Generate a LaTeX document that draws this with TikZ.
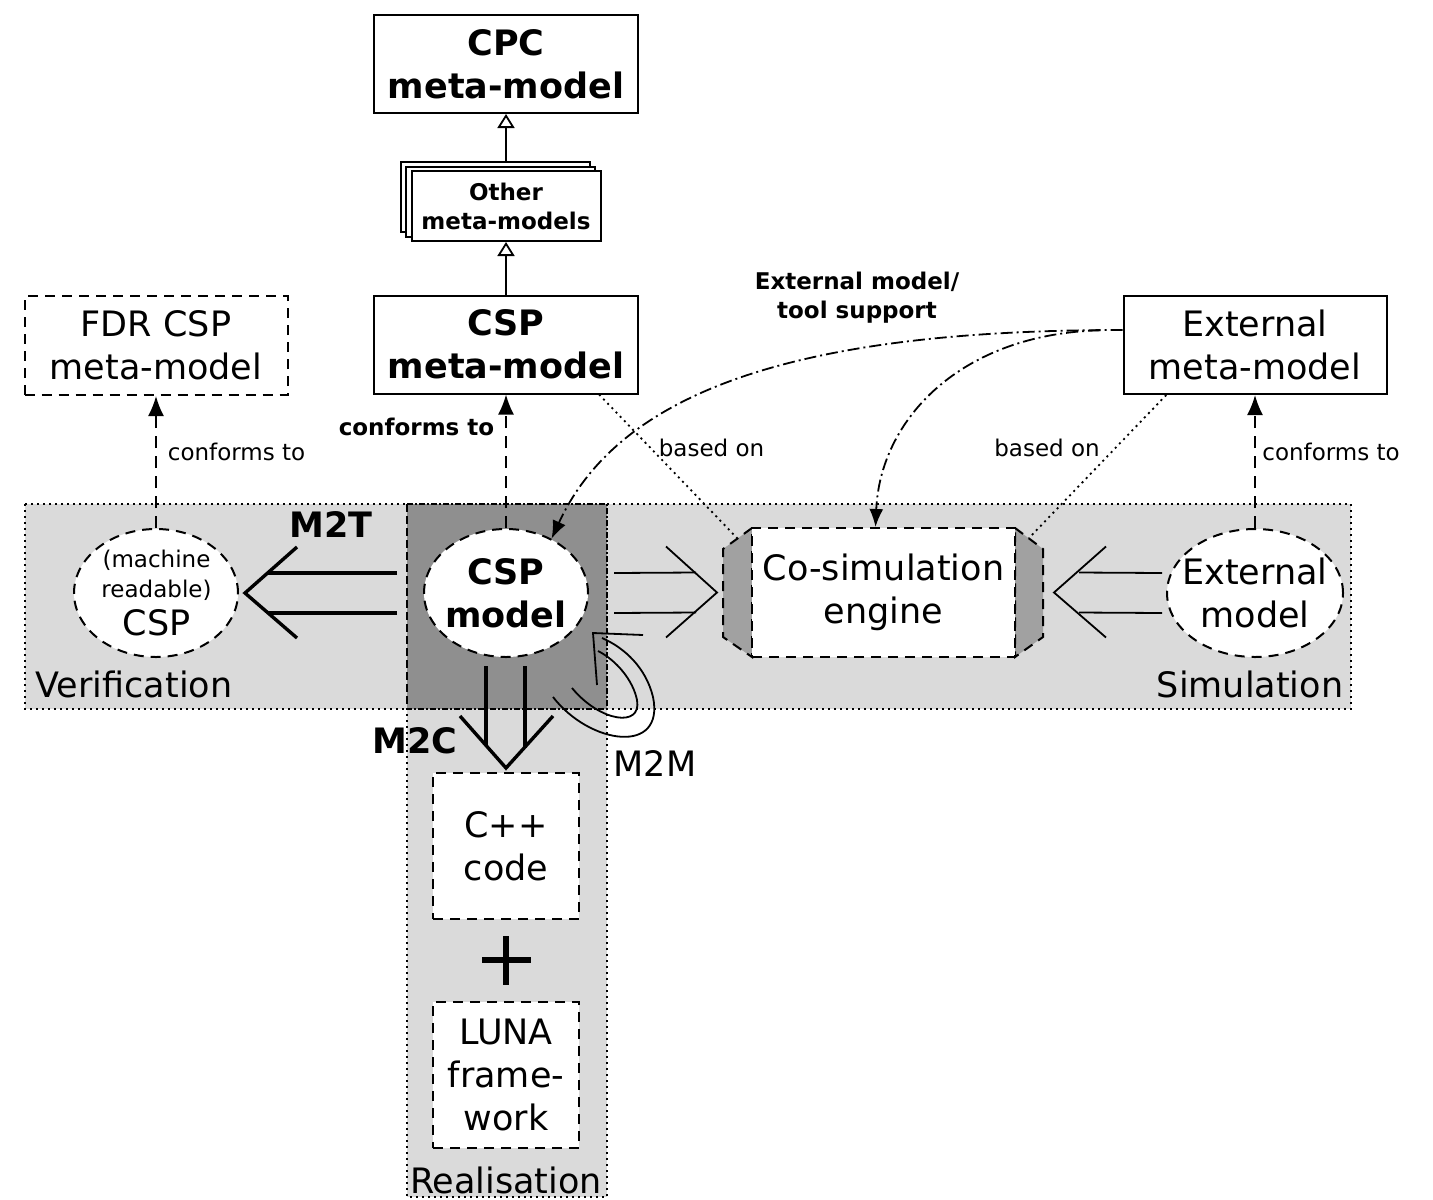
\documentclass[tikz,border=0pt]{standalone}
\usepackage{fontspec}
\setmainfont{DejaVu Sans}
\usetikzlibrary{arrows.meta,shapes.geometric,calc}
\newcommand{\BigTxt}{\fontsize{17.5}{21.5}\selectfont}
\newcommand{\SmTxt}{\fontsize{11.5}{14.5}\selectfont}
\definecolor{bandgray}{gray}{0.855}
\definecolor{darkgray}{gray}{0.56}
\definecolor{sidegray}{gray}{0.63}
\begin{document}
\begin{tikzpicture}[x=0.5pt,y=-0.5pt,
 mbox/.style={draw,line width=1pt,fill=white,align=center,inner sep=0pt,minimum width=132pt,minimum height=49pt,font=\BigTxt\bfseries},
 dbox/.style={draw,line width=1pt,fill=white,align=center,inner sep=0pt,dash pattern=on 5pt off 3.5pt,font=\BigTxt},
 ell/.style={ellipse,draw,line width=1pt,fill=white,inner sep=0pt,dash pattern=on 5pt off 3.5pt,minimum width=82pt,minimum height=64pt},
 conf/.style={line width=0.9pt,dash pattern=on 6pt off 4pt,-{Latex[length=10pt,width=8pt]}},
 inh/.style={line width=0.9pt,-{Triangle[open,length=7pt,width=8.5pt,fill=white]}},
 based/.style={line width=0.9pt,dash pattern=on 1pt off 2pt},
 dotborder/.style={line width=1pt,dash pattern=on 1pt off 2pt},
 dashdot/.style={line width=0.9pt,dash pattern=on 6pt off 2pt on 1pt off 2pt,-{Latex[length=9pt,width=7pt]}},
 fat/.style={line width=1.7pt},
 thinar/.style={line width=0.9pt},
 lbl/.style={font=\SmTxt,inner sep=0pt},
 blbl/.style={font=\SmTxt\bfseries,inner sep=0pt},
 big/.style={font=\BigTxt,inner sep=0pt},
 bigb/.style={font=\BigTxt\bfseries,inner sep=0pt},
]
\useasboundingbox (0,0) rectangle (1433,1199);

% bands
\fill[bandgray] (25,504) rectangle (1351,709);
\fill[bandgray] (407,504) rectangle (607,1197);
\fill[darkgray] (407,504) rectangle (607,709);
\draw[dotborder] (25,504) rectangle (1351,709);
\draw[dotborder] (407,504) rectangle (607,1197);
\draw[line width=0.9pt,dash pattern=on 3pt off 3pt] (407,504) rectangle (607,709);

% top meta-models
\node[mbox] (cpc) at (506,64) {CPC\\meta-model};
\draw[line width=1pt,fill=white] (401,162) rectangle (590,232);
\draw[line width=1pt,fill=white] (406,167) rectangle (595,237);
\node[draw,line width=1pt,fill=white,align=center,inner sep=0pt,minimum width=94.5pt,minimum height=35pt,font=\SmTxt\bfseries] (other) at (506,206) {Other\\meta-models};
\coordinate (otop) at (506,162);
\node[mbox] (cspmm) at (506,344.5) {CSP\\meta-model};
\node[dbox,minimum width=131.5pt,minimum height=49.5pt] (fdr) at (156,345.5) {FDR CSP\\meta-model};
\node[mbox,font=\BigTxt,minimum width=131.5pt] (extmm) at (1255,345) {External\\meta-model};

\draw[inh] (otop) -- (cpc.south);
\draw[inh] (cspmm.north) -- (other.south);

% ellipses
\node[ell] (cspm) at (506,593) {};
\node[bigb,align=center] (cspmt) at (506,593) {CSP\\model};
\node[ell] (mcsp) at (156,593) {};
\node[lbl,anchor=base] (mcspa) at (156.5,567) {(machine};
\node[lbl,anchor=base] (mcspb) at (156.5,597) {readable)};
\node[big,anchor=base] (mcspc) at (156.5,635) {CSP};
\node[ell,minimum width=88pt] (extm) at (1255,593) {};
\node[big,align=center] (extmt) at (1255,593) {External\\model};

% co-simulation engine
\draw[line width=1pt,fill=sidegray,dash pattern=on 5pt off 3.5pt] (752,528) -- (723,549) -- (723,637) -- (752,657) -- cycle;
\draw[line width=1pt,fill=sidegray,dash pattern=on 5pt off 3.5pt] (1015,528) -- (1043,549) -- (1043,637) -- (1015,657) -- cycle;
\node[draw,line width=1pt,fill=white,align=center,inner sep=0pt,dash pattern=on 5pt off 3.5pt,minimum width=131.5pt,minimum height=64.5pt,font=\BigTxt] (cosim) at (883.5,592.5) {Co-simulation\\engine};
\coordinate (lcorner) at (737,538);
\coordinate (rcorner) at (1029,538);
\coordinate (ctop) at ($(cosim.north)+(-8,0)$);

% realisation boxes
\node[dbox,minimum width=73pt,minimum height=73pt] (cpp) at (506,846) {C++\\code};
\node[dbox,minimum width=73pt,minimum height=73pt] (luna) at (506,1075) {LUNA\\frame-\\work};
\draw[line width=2.6pt] (482,960) -- (531,960);
\draw[line width=2.6pt] (506,936) -- (506,985);

% conforms to
\draw[conf] (mcsp.north) -- (fdr.south);
\draw[conf] (cspm.north) -- (cspmm.south);
\draw[conf] (extm.north) -- (extmm.south);
\node[lbl,anchor=base] (cf1) at (236.5,460) {conforms to};
\node[blbl,anchor=base] (cf2) at (416.5,435) {conforms to};
\node[lbl,anchor=base] (cf3) at (1331,460) {conforms to};

% based on
\draw[based] ($(cspmm.south)!0.7!(cspmm.south east)$) -- (lcorner);
\draw[based] ($(extmm.south west)!0.33!(extmm.south)$) -- (rcorner);
\node[lbl,anchor=base] (bo1) at (711.5,456) {based on};
\node[lbl,anchor=base] (bo2) at (1047,456) {based on};

% external model / tool support
\coordinate (ds) at ($(extmm.west)+(0,-15)$);
\coordinate (ds2) at (1100,330.3);
\draw[dashdot] (ds) .. controls (800,330) and (620,390) .. (cspm.50);
\draw[dashdot] (ds2) .. controls (960,334) and (880,420) .. (ctop);
\node[blbl,align=center] (ext) at (857,298) {External model/\\tool support};

% M2T
\draw[fat] ($(cspm.west)+(-26,-20)$) -- ($(mcsp.east)+(29,-20)$);
\draw[fat] ($(cspm.west)+(-26,20)$) -- ($(mcsp.east)+(29,20)$);
\draw[fat] ($(mcsp.east)+(58,-46)$) -- ($(mcsp.east)+(6,0)$) -- ($(mcsp.east)+(58,45)$);
\node[bigb,anchor=base] (m2t) at (331,537) {M2T};

% CSP model -> co-simulation
\draw[thinar] ($(cspm.east)+(25,-20)$) -- ($(cosim.west)+(-55,-20)$);
\draw[thinar] ($(cspm.east)+(25,20)$) -- ($(cosim.west)+(-55,20)$);
\draw[thinar] ($(cosim.west)+(-85,-46)$) -- ($(cosim.west)+(-34,0)$) -- ($(cosim.west)+(-85,45)$);

% external model -> co-simulation
\draw[thinar] ($(extm.west)+(-4,-20)$) -- ($(cosim.east)+(63,-20)$);
\draw[thinar] ($(extm.west)+(-4,20)$) -- ($(cosim.east)+(63,20)$);
\draw[thinar] ($(cosim.east)+(90,-46)$) -- ($(cosim.east)+(38,0)$) -- ($(cosim.east)+(90,45)$);

% M2C
\draw[fat] ($(cspm.south)+(-20,8)$) -- (486,746);
\draw[fat] ($(cspm.south)+(19,8)$) -- (525,748);
\draw[fat] ($(cpp.north)+(-46,-56)$) -- ($(cpp.north)+(0,-4)$) -- ($(cpp.north)+(47,-56)$);
\node[bigb,anchor=base] (m2c) at (415,753) {M2C};

% M2M
\draw[thinar] (553,697) .. controls (590,745) and (665,755) .. (653,697) .. controls (646,668) and (625,648) .. (602,638);
\draw[thinar] (572,688) .. controls (600,722) and (642,728) .. (637,700) .. controls (633,680) and (616,660) .. (598,651);
\draw[thinar] (643,635) -- (593,633) -- (597,685);
\node[big,anchor=base] (m2m) at (655,776) {M2M};

% band labels
\node[big,anchor=base] (ver) at (134,697) {Verification};
\node[big,anchor=base] (sim) at (1250,697) {Simulation};
\node[big,anchor=base] (rea) at (506,1193.5) {Realisation};
\end{tikzpicture}
\end{document}
